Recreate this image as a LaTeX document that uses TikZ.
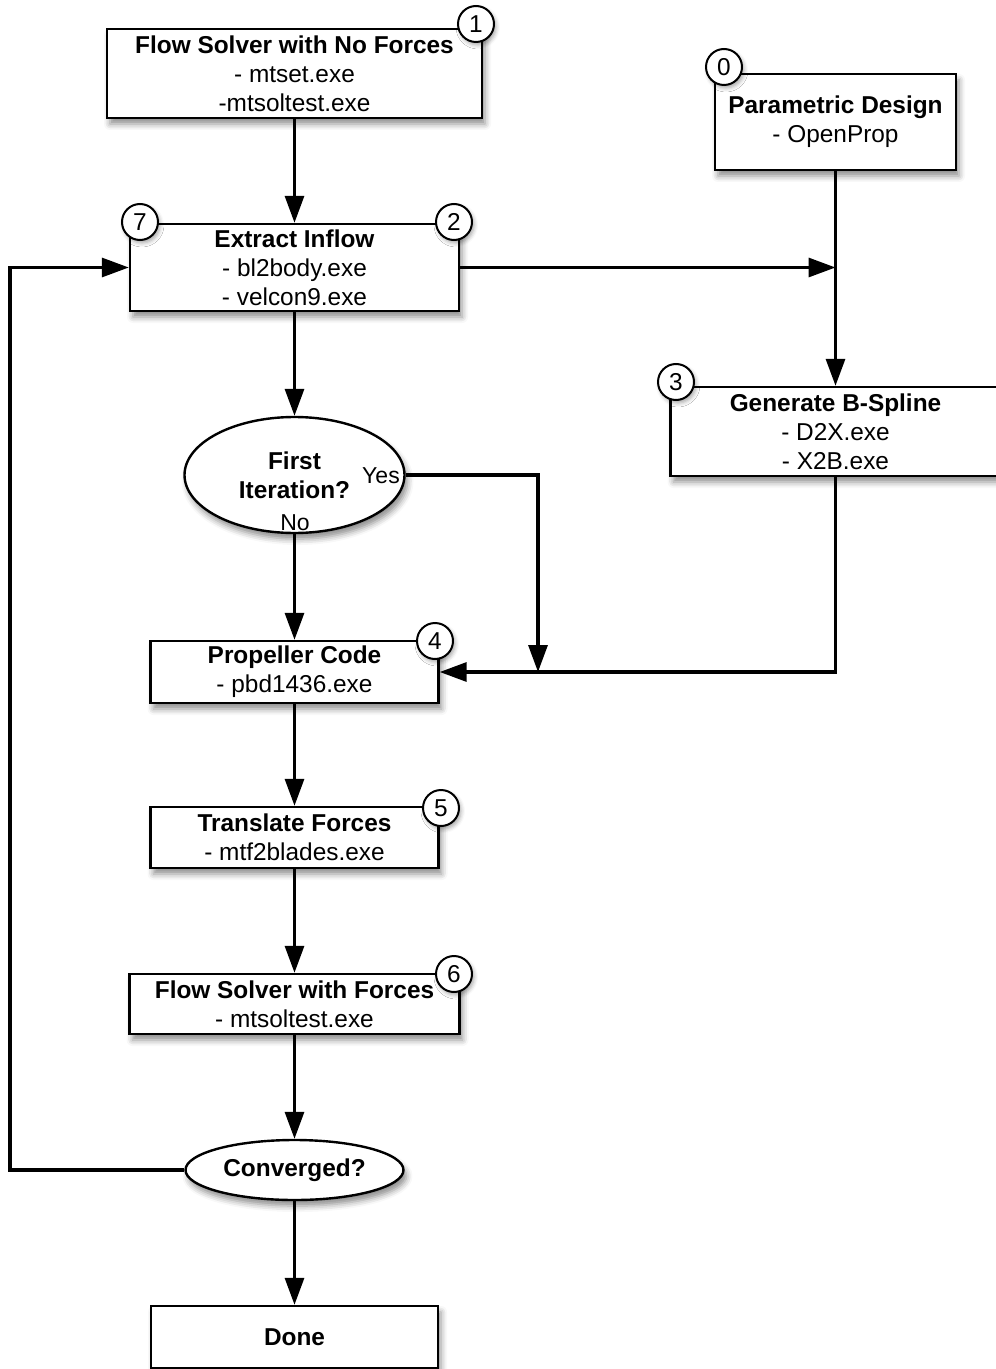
\documentclass[tikz,border=0pt]{standalone}
\usepackage{fontspec}
\setmainfont{Liberation Sans}
\usetikzlibrary{arrows.meta,shapes.geometric,shadows.blur}
\begin{document}
\begin{tikzpicture}[x=0.5pt,y=-0.5pt,
  txt/.style={font=\fontsize{12.2}{14.5}\selectfont},
  shad/.style={blur shadow={shadow xshift=1.5pt,shadow yshift=-3pt,shadow blur radius=3pt,shadow opacity=45}},
  box/.style={draw=black,line width=1.2pt,fill=white,rectangle,align=center,inner sep=0pt,txt,shad},
  dec/.style={draw=black,line width=1.2pt,fill=white,ellipse,align=center,inner sep=0pt,txt,shad},
  num/.style={draw=black,line width=1pt,fill=white,circle,minimum size=18pt,inner sep=0pt,txt,
    blur shadow={shadow xshift=1pt,shadow yshift=-1.5pt,shadow blur radius=2pt,shadow opacity=35}},
  lab/.style={font=\fontsize{11.5}{13}\selectfont,inner sep=0pt},
  arr/.style={line width=1.6pt,-{Triangle[length=13.5pt,width=9.5pt]}},
  ln/.style={line width=1.6pt}]
\useasboundingbox (0,0) rectangle (995,1369);

% boxes
\node[box,minimum width=187.5pt,minimum height=44.5pt] (b1) at (294.5,73.5)
  {\textbf{Flow Solver with No Forces}\\- mtset.exe\\-mtsoltest.exe};
\node[box,minimum width=120.5pt,minimum height=48pt] (b0) at (835.5,122)
  {\textbf{Parametric Design}\\- OpenProp};
\node[box,minimum width=164.5pt,minimum height=43.5pt] (b2) at (294.5,267.5)
  {\textbf{Extract Inflow}\\- bl2body.exe\\- velcon9.exe};
\node[box,minimum width=165pt,minimum height=44.5pt] (b3) at (835.5,431.5)
  {\textbf{Generate B-Spline}\\- D2X.exe\\- X2B.exe};
\node[dec,minimum width=110pt,minimum height=58pt] (e1) at (294.5,475)
  {\textbf{First}\\\textbf{Iteration?}};
\node[box,minimum width=144pt,minimum height=31pt] (b4) at (294.5,672)
  {\textbf{Propeller Code}\\- pbd1436.exe};
\node[box,minimum width=144pt,minimum height=30.5pt] (b5) at (294.5,837.5)
  {\textbf{Translate Forces}\\- mtf2blades.exe};
\node[box,minimum width=165pt,minimum height=30pt] (b6) at (294.5,1004)
  {\textbf{Flow Solver with Forces}\\- mtsoltest.exe};
\node[dec,minimum width=109pt,minimum height=30pt] (e2) at (294.5,1170)
  {\textbf{Converged?}};
\node[box,minimum width=143.5pt,minimum height=31pt] (done) at (294.5,1337)
  {\textbf{Done}};

% labels
\node[lab] (yes) at (381,476) {Yes};
\node[lab] (no) at (295,523) {No};

% junction coordinates
\coordinate (j1) at (835.5,267.5);
\coordinate (j2) at (538,672);
\coordinate (lp1) at (10,1170);
\coordinate (lp2) at (10,267.5);

% connectors
\draw[arr] (b1.south) -- (b2.north);
\draw[arr] (b2.east) -- (j1);
\draw[arr] (b0.south) -- (b3.north);
\draw[arr] (b2.south) -- (e1.north);
\draw[arr] (e1.east) -| (j2);
\draw[arr] (b3.south) |- (b4.east);
\draw[arr] (e1.south) -- (b4.north);
\draw[arr] (b4.south) -- (b5.north);
\draw[arr] (b5.south) -- (b6.north);
\draw[arr] (b6.south) -- (e2.north);
\draw[arr] (e2.west) -- (lp1) -- (lp2) -- (b2.west);
\draw[arr] (e2.south) -- (done.north);

% step numbers
\node[num] (n1) at (476,24) {1};
\node[num] (n0) at (724,67) {0};
\node[num] (n7) at (140,222) {7};
\node[num] (n2) at (454,222) {2};
\node[num] (n3) at (676,382) {3};
\node[num] (n4) at (435,641) {4};
\node[num] (n5) at (441,808) {5};
\node[num] (n6) at (454,974) {6};
\end{tikzpicture}
\end{document}
